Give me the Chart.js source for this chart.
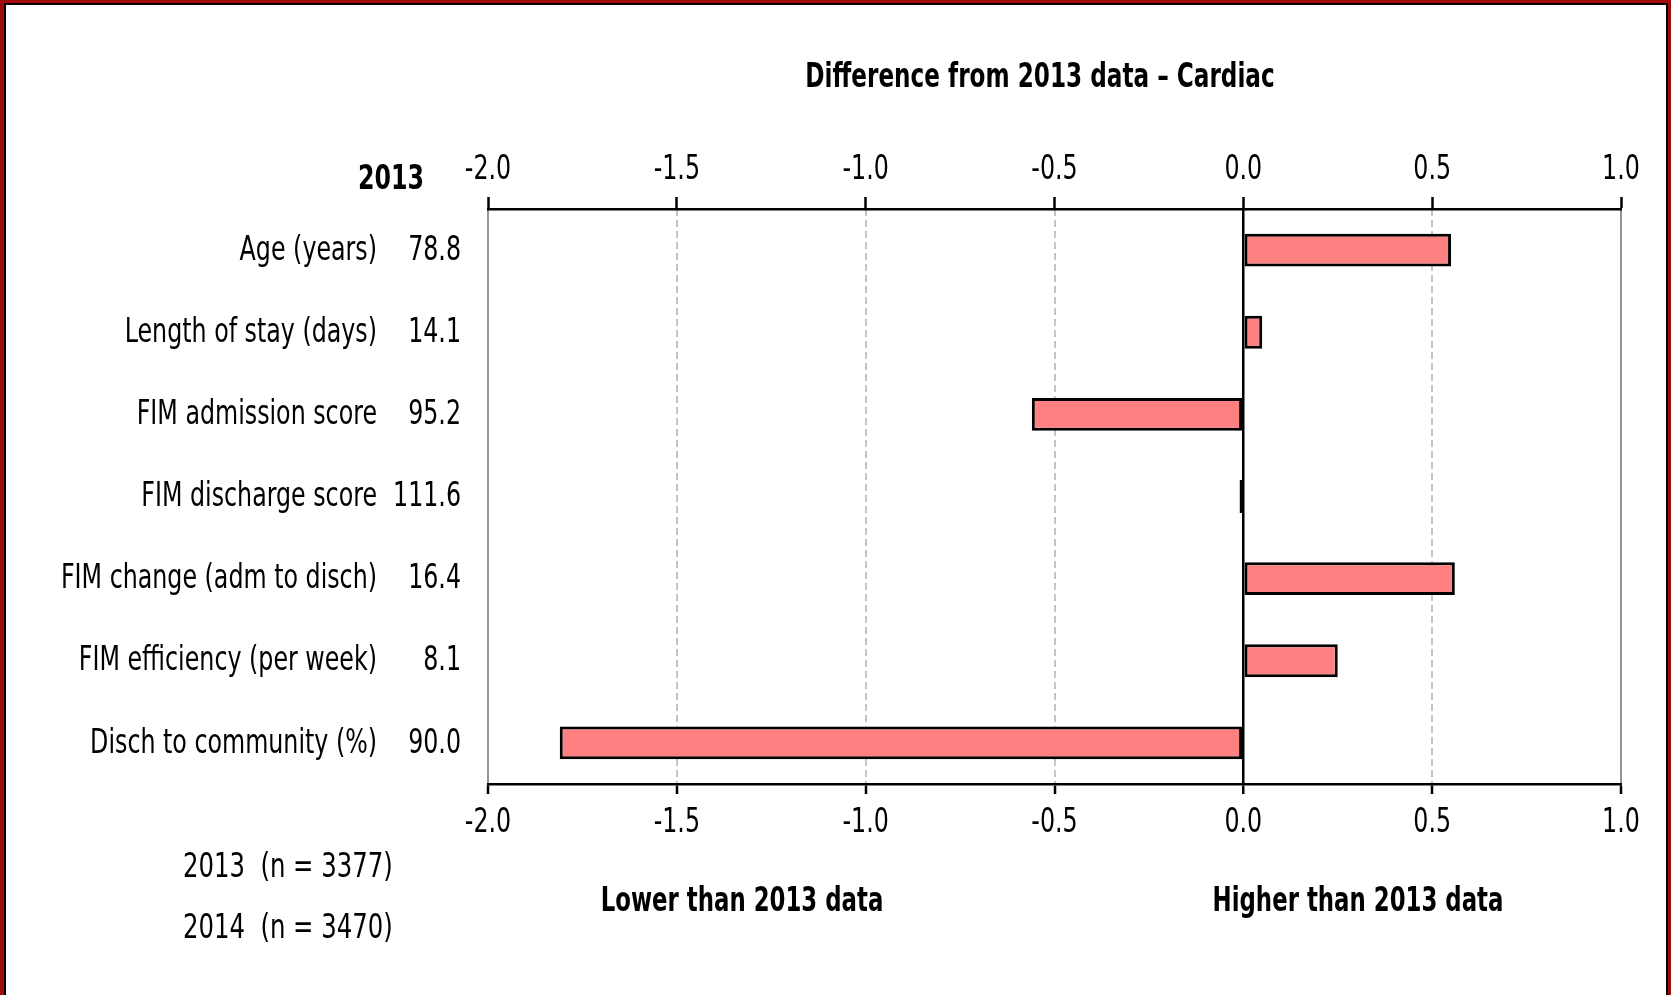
<!DOCTYPE html>
<html>
<head>
<meta charset="utf-8">
<script src="https://cdn.jsdelivr.net/npm/chart.js@4.4.0/dist/chart.umd.min.js"></script>
<style>
html,body{margin:0;padding:0;background:#fff;}
#wrap{position:relative;width:1671px;height:995px;overflow:hidden;}
canvas{position:absolute;left:0;top:0;}
#frame{position:absolute;left:0;top:0;width:1671px;height:995px;box-sizing:border-box;border:3px solid #a30b0b;border-left-width:4px;border-bottom:none;pointer-events:none;}
#frame2{position:absolute;left:0;top:0;right:0;bottom:0;border:2px solid #000;border-bottom:none;}
</style>
</head>
<body>
<div id="wrap">
  <canvas id="chart" width="1671" height="995"></canvas>
  <div id="frame"><div id="frame2"></div></div>
</div>
<script>
// chart data
const categories = ['Age (years)', 'Length of stay (days)', 'FIM admission score', 'FIM discharge score',
  'FIM change (adm to disch)', 'FIM efficiency (per week)', 'Disch to community (%)'];
const values2013 = ['78.8', '14.1', '95.2', '111.6', '16.4', '8.1', '90.0'];
const differences = [0.55, 0.05, -0.56, -0.01, 0.56, 0.25, -1.81];
const xMin = -2.0;
const xMax = 1.0;
const xStep = 0.5;
const sampleLabels = ['2013  (n = 3377)', '2014  (n = 3470)'];

// no narrow font installed, so text is squeezed horizontally
const family = "'DejaVu Sans Condensed', 'DejaVu Sans', sans-serif";
const fontSize = 33;
const squeeze = 0.8;

const gridColor = c => {
  const v = c.tick ? c.tick.value : null;
  if (v === 0) return '#000';
  if (v === xMin || v === xMax) return '#959595';
  return '#c4c4c4';
};
const gridWidth = c => {
  const v = c.tick ? c.tick.value : null;
  return v === 0 ? 2.5 : 2;
};
const gridDash = c => {
  const v = c.tick ? c.tick.value : null;
  if (v === 0 || v === xMin || v === xMax || v === null) return [];
  return [7, 4];
};

function drawText(c, str, x, y, align, bold, sx) {
  c.save();
  c.translate(x, y);
  c.scale(sx, 1);
  c.font = (bold ? 'bold ' : '') + fontSize + 'px ' + family;
  c.textAlign = align;
  c.textBaseline = 'middle';
  c.fillText(str, 0, 0);
  c.restore();
}

const textPlugin = {
  id: 'sideText',
  afterDraw(chart) {
    const c = chart.ctx;
    const y = chart.scales.y;
    const x = chart.scales.x;
    c.save();
    c.fillStyle = '#000';

    categories.forEach((cat, i) => {
      const py = y.getPixelForValue(i) + 1;
      drawText(c, cat, 377, py, 'right', false, squeeze);
      drawText(c, values2013[i], 461, py, 'right', false, squeeze);
    });

    x.ticks.forEach(t => {
      const px = x.getPixelForValue(t.value);
      const lbl = Number(t.value).toFixed(1);
      drawText(c, lbl, px, 170, 'center', false, squeeze);
      drawText(c, lbl, px, 823, 'center', false, squeeze);
    });

    drawText(c, sampleLabels[0], 183, 868, 'left', false, 0.82);
    drawText(c, sampleLabels[1], 183, 929, 'left', false, 0.82);

    drawText(c, 'Difference from 2013 data \u2013 Cardiac', 1040, 78, 'center', true, 0.78);
    drawText(c, '2013', 391, 180, 'center', true, 0.8);
    drawText(c, 'Lower than 2013 data', 742, 902, 'center', true, 0.77);
    drawText(c, 'Higher than 2013 data', 1358, 902, 'center', true, 0.77);
    c.restore();
  }
};

new Chart(document.getElementById('chart'), {
  type: 'bar',
  data: {
    labels: categories,
    datasets: [{
      data: differences,
      backgroundColor: '#ff8080',
      borderColor: '#000',
      borderWidth: 3,
      borderSkipped: false,
      barPercentage: 0.4,
      categoryPercentage: 1.0
    }]
  },
  options: {
    indexAxis: 'y',
    responsive: false,
    animation: false,
    layout: { padding: { left: 488, right: 50, top: 149, bottom: 151 } },
    plugins: { legend: { display: false }, tooltip: { enabled: false } },
    scales: {
      y: { display: false },
      x: {
        type: 'linear', position: 'bottom', min: xMin, max: xMax,
        ticks: { stepSize: xStep, display: false },
        grid: { color: gridColor, lineWidth: gridWidth, tickLength: 10, tickColor: '#000', tickWidth: 2.5 },
        border: { color: '#000', width: 2.5, dash: gridDash },
        afterFit: s => { s.height = 60; }
      },
      x2: {
        type: 'linear', axis: 'x', position: 'top', min: xMin, max: xMax,
        ticks: { stepSize: xStep, display: false },
        grid: { drawOnChartArea: false, tickLength: 12, tickColor: '#000', tickWidth: 2.5, color: '#000' },
        border: { color: '#000', width: 2.5 },
        afterFit: s => { s.height = 60; }
      }
    }
  },
  plugins: [textPlugin]
});
</script>
</body>
</html>
